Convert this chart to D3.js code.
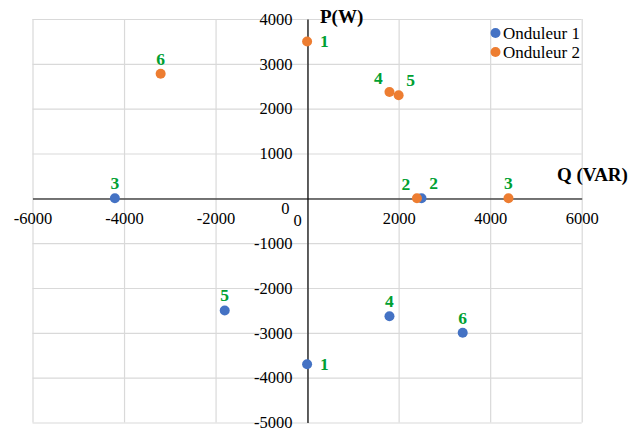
<!DOCTYPE html>
<html>
<head>
<meta charset="utf-8">
<script src="https://cdn.jsdelivr.net/npm/d3@7"></script>
<style>
  html, body { margin: 0; padding: 0; background: #ffffff; }
  svg { display: block; }
  svg text { font-family: "Liberation Serif", "Times New Roman", "DejaVu Serif", serif !important; }
</style>
</head>
<body>
<svg id="chart" width="636" height="430"></svg>
<script>
// ---- Data ----
const categories = ["1", "2", "3", "4", "5", "6"];
const seriesNames = ["Onduleur 1", "Onduleur 2"];
const q1 = [0, 2500, -4200, 1800, -1800, 3400];
const p1 = [-3700, 0, 0, -2630, -2500, -3000];
const q2 = [0, 2400, 4400, 1800, 2000, -3200];
const p2 = [3500, 0, 0, 2370, 2300, 2780];
const labelPlace1 = ["right", "aboveRight", "above", "above", "above", "above"];
const labelPlace2 = ["right", "aboveLeft", "above", "aboveLeft", "aboveRight", "above"];
const xTicks = [-6000, -4000, -2000, 0, 2000, 4000, 6000];
const yTicks = [-5000, -4000, -3000, -2000, -1000, 0, 1000, 2000, 3000, 4000];
const xTitle = "Q (VAR)";
const yTitle = "P(W)";

// ---- Layout ----
const FONT = "'Liberation Serif', 'Times New Roman', serif";
const colors = ["#4472C4", "#ED7D31"];
const labelColor = "#00A032";
const svg = d3.select("#chart").style("font-family", FONT);
const x = d3.scaleLinear().domain([-6000, 6000]).range([32.5, 581.7]);
const y = d3.scaleLinear().domain([-5000, 4000]).range([422.5, 19]);
const x0 = Math.round(x(0)) + 0.5, y0 = Math.round(y(0)) + 0.5;
const fmt = d => String(d);

// Gridlines
const gx = svg.append("g").attr("transform", `translate(0,${y.range()[1]})`)
  .call(d3.axisBottom(x).tickValues(xTicks).tickSize(y.range()[0] - y.range()[1]).tickFormat(""));
gx.select(".domain").remove();
gx.selectAll("line").attr("stroke", "#d9d9d9").attr("stroke-width", 1.2);

const gy = svg.append("g").attr("transform", `translate(${x.range()[0]},0)`)
  .call(d3.axisRight(y).tickValues(yTicks).tickSize(x.range()[1] - x.range()[0]).tickFormat(""));
gy.select(".domain").remove();
gy.selectAll("line").attr("stroke", "#d9d9d9").attr("stroke-width", 1.2);

// Axes through origin
const ax = svg.append("g").attr("transform", `translate(0,${y0})`)
  .call(d3.axisBottom(x).tickValues(xTicks).tickSize(0).tickPadding(0).tickFormat(fmt));
ax.attr("font-family", null);
ax.select(".domain").attr("stroke", "#000").attr("stroke-width", 1.2);
ax.selectAll("text").attr("font-size", 16.5).attr("fill", "#000")
  .style("font-family", FONT)
  .attr("dy", null).attr("y", 25).attr("x", 0)
  .filter(d => d === 0).attr("x", -10).attr("y", 27);

const ay = svg.append("g").attr("transform", `translate(${x0},0)`)
  .call(d3.axisLeft(y).tickValues(yTicks).tickSize(0).tickPadding(15).tickFormat(fmt));
ay.attr("font-family", null);
ay.select(".domain").attr("stroke", "#000").attr("stroke-width", 1.2);
ay.selectAll("text").attr("font-size", 16.5).attr("fill", "#000")
  .style("font-family", FONT)
  .filter(d => d === 0).attr("x", -18).attr("dy", null).attr("y", 15);

// Axis titles
svg.append("text").attr("x", 320).attr("y", 23).attr("font-size", 19).attr("font-weight", "bold")
  .style("font-family", FONT).text(yTitle);
svg.append("text").attr("x", 557).attr("y", 181).attr("font-size", 19).attr("font-weight", "bold")
  .style("font-family", FONT).text(xTitle);

// Points & labels
const series = [
  { q: q1, p: p1, place: labelPlace1, color: colors[0] },
  { q: q2, p: p2, place: labelPlace2, color: colors[1] }
];
const placeOffsets = {
  right: { dx: 13, dy: 6, anchor: "start" },
  above: { dx: 0, dy: -9, anchor: "middle" },
  aboveLeft: { dx: -11, dy: -8, anchor: "middle" },
  aboveRight: { dx: 12, dy: -9, anchor: "middle" }
};
series.forEach(s => {
  const pts = categories.map((c, i) => ({ c, q: s.q[i], p: s.p[i], place: s.place[i] }));
  svg.append("g").selectAll("circle").data(pts).join("circle")
    .attr("cx", d => x(d.q)).attr("cy", d => y(d.p)).attr("r", 5).attr("fill", s.color);
  svg.append("g").selectAll("text").data(pts).join("text")
    .attr("x", d => x(d.q) + placeOffsets[d.place].dx)
    .attr("y", d => y(d.p) + placeOffsets[d.place].dy)
    .attr("text-anchor", d => placeOffsets[d.place].anchor)
    .attr("font-size", 17.5).attr("font-weight", "bold").attr("fill", labelColor)
    .style("font-family", FONT)
    .text(d => d.c);
});

// Legend
const lg = svg.append("g");
seriesNames.forEach((n, i) => {
  const cy = 33 + i * 19;
  lg.append("circle").attr("cx", 495.5).attr("cy", cy).attr("r", 5).attr("fill", colors[i]);
  lg.append("text").attr("x", 503).attr("y", cy + 6).attr("font-size", 17).attr("fill", "#000")
    .style("font-family", FONT).text(n);
});
</script>
</body>
</html>
